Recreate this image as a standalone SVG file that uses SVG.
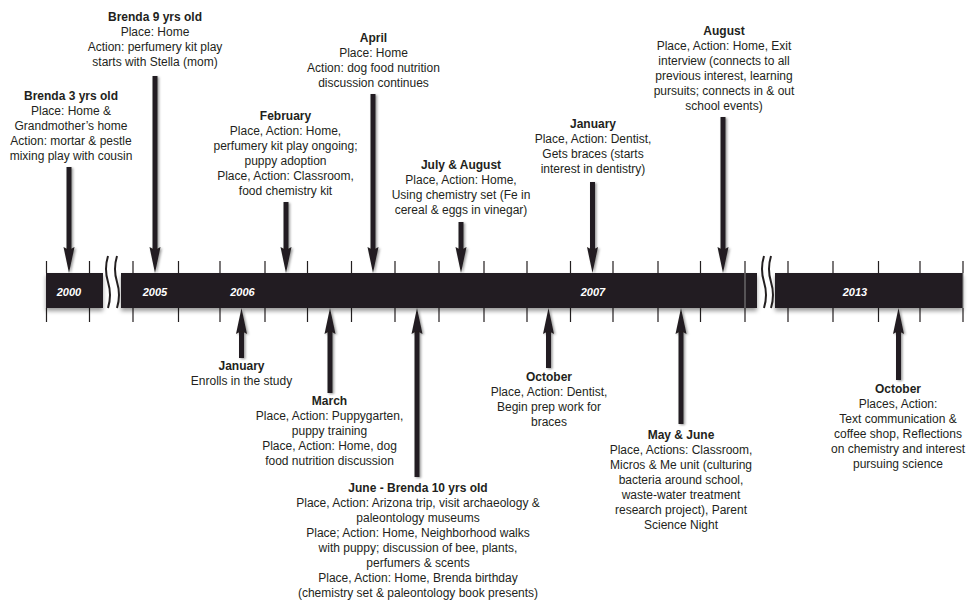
<svg xmlns="http://www.w3.org/2000/svg" width="971" height="600" viewBox="0 0 971 600">
<style>
  .lbl { font-family: "Liberation Sans", Arial, sans-serif; font-size: 12px; fill: #231f20; text-anchor: middle; }
  .ttl { font-weight: bold; }
  .yr { font-family: "Liberation Sans", Arial, sans-serif; font-size: 11px; font-weight: bold; font-style: italic; fill: #ffffff; text-anchor: middle; }
  .bar { fill: #231f20; }
  .tick { stroke: #231f20; stroke-width: 1.2; }
  .brk { stroke: #231f20; stroke-width: 2; fill: none; }
  .arr { stroke: #231f20; stroke-width: 5; fill: none; marker-end: url(#head); }
</style>
<defs>
  <marker id="head" viewBox="0 0 26 12" markerWidth="26" markerHeight="12" refX="4" refY="6" orient="auto" markerUnits="userSpaceOnUse">
    <path d="M0,0.5 L26,6 L0,11.5 L3,6 Z" fill="#231f20"/>
  </marker>
  <filter id="sh" x="-20%" y="-20%" width="140%" height="160%">
    <feDropShadow dx="0" dy="3" stdDeviation="2" flood-color="#000" flood-opacity="0.4"/>
  </filter>
  <filter id="ash" x="-100%" y="-10%" width="300%" height="120%">
    <feDropShadow dx="1.5" dy="1" stdDeviation="1.2" flood-color="#000" flood-opacity="0.4"/>
  </filter>
</defs>

<g id="timeline">
  <g id="ticks">
    <path class="tick" d="M46.5,261V273M46.5,308V322 M89.5,261V273M89.5,308V322 M133,261V273M133,308V322 M178.5,261V273M178.5,308V322 M220,261V273M220,308V322 M265,261V273M265,308V322 M307.5,261V273M307.5,308V322 M351.5,261V273M351.5,308V322 M395,261V273M395,308V322 M439,261V273M439,308V322 M484,261V273M484,308V322 M527,261V273M527,308V322 M570.5,261V273M570.5,308V322 M613,261V273M613,308V322 M658,261V273M658,308V322 M700.5,261V273M700.5,308V322 M745,261V273M745,308V322 M788,261V273M788,308V322 M833,261V273M833,308V322 M878.5,261V273M878.5,308V322 M920,261V273M920,308V322 M963,261V273M963,308V322"/>
  </g>
  <g filter="url(#sh)">
    <rect class="bar" x="46" y="273" width="57" height="35"/>
    <rect class="bar" x="121" y="273" width="636" height="35"/>
    <rect class="bar" x="775" y="273" width="188" height="35"/>
  </g>
  <line x1="745" y1="273" x2="745" y2="308" stroke="#8a8a8a" stroke-width="1"/>
  <line x1="963" y1="273" x2="963" y2="308" stroke="#8a8a8a" stroke-width="1"/>
  <g id="breaks">
    <path class="brk" d="M108,256 q-4,13 0,26 t0,26"/>
    <path class="brk" d="M117,256 q-4,13 0,26 t0,26"/>
    <path class="brk" d="M764,256 q-4,13 0,26 t0,26"/>
    <path class="brk" d="M771,256 q-4,13 0,26 t0,26"/>
  </g>
  <text class="yr" x="69" y="295.5">2000</text>
  <text class="yr" x="155" y="295.5">2005</text>
  <text class="yr" x="242.5" y="295.5">2006</text>
  <text class="yr" x="593" y="295.5">2007</text>
  <text class="yr" x="855" y="295.5">2013</text>
</g>

<g id="connectors" filter="url(#ash)">
  <line class="arr" x1="69" y1="167" x2="69" y2="251"/>
  <line class="arr" x1="155" y1="76" x2="155" y2="251"/>
  <line class="arr" x1="286" y1="202" x2="286" y2="251"/>
  <line class="arr" x1="373" y1="94" x2="373" y2="251"/>
  <line class="arr" x1="461" y1="222" x2="461" y2="251"/>
  <line class="arr" x1="592.5" y1="182" x2="592.5" y2="251"/>
  <line class="arr" x1="723" y1="117" x2="723" y2="251"/>
  <line class="arr" x1="241.5" y1="358" x2="241.5" y2="330"/>
  <line class="arr" x1="330" y1="393" x2="330" y2="330"/>
  <line class="arr" x1="417" y1="477" x2="417" y2="330"/>
  <line class="arr" x1="548.5" y1="368" x2="548.5" y2="330"/>
  <line class="arr" x1="681" y1="424" x2="681" y2="330"/>
  <line class="arr" x1="898.5" y1="380" x2="898.5" y2="330"/>
</g>

<g id="n-brenda3">
  <text class="lbl"><tspan class="ttl" x="71" y="100">Brenda 3 yrs old</tspan><tspan x="71" y="114.5">Place: Home &amp;</tspan><tspan x="71" y="129.5">Grandmother’s home</tspan><tspan x="71" y="144.5">Action: mortar &amp; pestle</tspan><tspan x="71" y="159.5">mixing play with cousin</tspan></text>
</g>
<g id="n-brenda9">
  <text class="lbl"><tspan class="ttl" x="155" y="21">Brenda 9 yrs old</tspan><tspan x="155" y="36">Place: Home</tspan><tspan x="155" y="51">Action: perfumery kit play</tspan><tspan x="155" y="66">starts with Stella (mom)</tspan></text>
</g>
<g id="n-february">
  <text class="lbl"><tspan class="ttl" x="285.5" y="120">February</tspan><tspan x="285.5" y="135">Place, Action: Home,</tspan><tspan x="285.5" y="150">perfumery kit play ongoing;</tspan><tspan x="285.5" y="165">puppy adoption</tspan><tspan x="285.5" y="180">Place, Action: Classroom,</tspan><tspan x="285.5" y="195">food chemistry kit</tspan></text>
</g>
<g id="n-april">
  <text class="lbl"><tspan class="ttl" x="373.5" y="42">April</tspan><tspan x="373.5" y="57">Place: Home</tspan><tspan x="373.5" y="72">Action: dog food nutrition</tspan><tspan x="373.5" y="87">discussion continues</tspan></text>
</g>
<g id="n-julyaug">
  <text class="lbl"><tspan class="ttl" x="461" y="169">July &amp; August</tspan><tspan x="461" y="184">Place, Action: Home,</tspan><tspan x="461" y="199">Using chemistry set (Fe in</tspan><tspan x="461" y="214">cereal &amp; eggs in vinegar)</tspan></text>
</g>
<g id="n-january2007">
  <text class="lbl"><tspan class="ttl" x="593" y="127.5">January</tspan><tspan x="593" y="142.5">Place, Action: Dentist,</tspan><tspan x="593" y="157.5">Gets braces (starts</tspan><tspan x="593" y="172.5">interest in dentistry)</tspan></text>
</g>
<g id="n-august">
  <text class="lbl"><tspan class="ttl" x="724" y="34.5">August</tspan><tspan x="724" y="49.5">Place, Action: Home, Exit</tspan><tspan x="724" y="64.5">interview (connects to all</tspan><tspan x="724" y="79.5">previous interest, learning</tspan><tspan x="724" y="94.5">pursuits; connects in &amp; out</tspan><tspan x="724" y="109.5">school events)</tspan></text>
</g>
<g id="n-january2006">
  <text class="lbl"><tspan class="ttl" x="241.5" y="370">January</tspan><tspan x="241.5" y="385">Enrolls in the study</tspan></text>
</g>
<g id="n-march">
  <text class="lbl"><tspan class="ttl" x="329.5" y="405">March</tspan><tspan x="329.5" y="420">Place, Action: Puppygarten,</tspan><tspan x="329.5" y="435">puppy training</tspan><tspan x="329.5" y="450">Place, Action: Home, dog</tspan><tspan x="329.5" y="465">food nutrition discussion</tspan></text>
</g>
<g id="n-june">
  <text class="lbl"><tspan class="ttl" x="418" y="491.5">June - Brenda 10 yrs old</tspan><tspan x="418" y="506.5">Place, Action: Arizona trip, visit archaeology &amp;</tspan><tspan x="418" y="521.5">paleontology museums</tspan><tspan x="418" y="536.5">Place; Action: Home, Neighborhood walks</tspan><tspan x="418" y="551.5">with puppy; discussion of bee, plants,</tspan><tspan x="418" y="566.5">perfumers &amp; scents</tspan><tspan x="418" y="581.5">Place, Action: Home, Brenda birthday</tspan><tspan x="418" y="596.5">(chemistry set &amp; paleontology book presents)</tspan></text>
</g>
<g id="n-october2006">
  <text class="lbl"><tspan class="ttl" x="549" y="381">October</tspan><tspan x="549" y="396">Place, Action: Dentist,</tspan><tspan x="549" y="411">Begin prep work for</tspan><tspan x="549" y="426">braces</tspan></text>
</g>
<g id="n-mayjune">
  <text class="lbl"><tspan class="ttl" x="681" y="439">May &amp; June</tspan><tspan x="681" y="454">Place, Actions: Classroom,</tspan><tspan x="681" y="469">Micros &amp; Me unit (culturing</tspan><tspan x="681" y="484">bacteria around school,</tspan><tspan x="681" y="499">waste-water treatment</tspan><tspan x="681" y="514">research project), Parent</tspan><tspan x="681" y="529">Science Night</tspan></text>
</g>
<g id="n-october2013">
  <text class="lbl"><tspan class="ttl" x="898" y="393">October</tspan><tspan x="898" y="408">Places, Action:</tspan><tspan x="898" y="423">Text communication &amp;</tspan><tspan x="898" y="438">coffee shop, Reflections</tspan><tspan x="898" y="453">on chemistry and interest</tspan><tspan x="898" y="468">pursuing science</tspan></text>
</g>
</svg>
